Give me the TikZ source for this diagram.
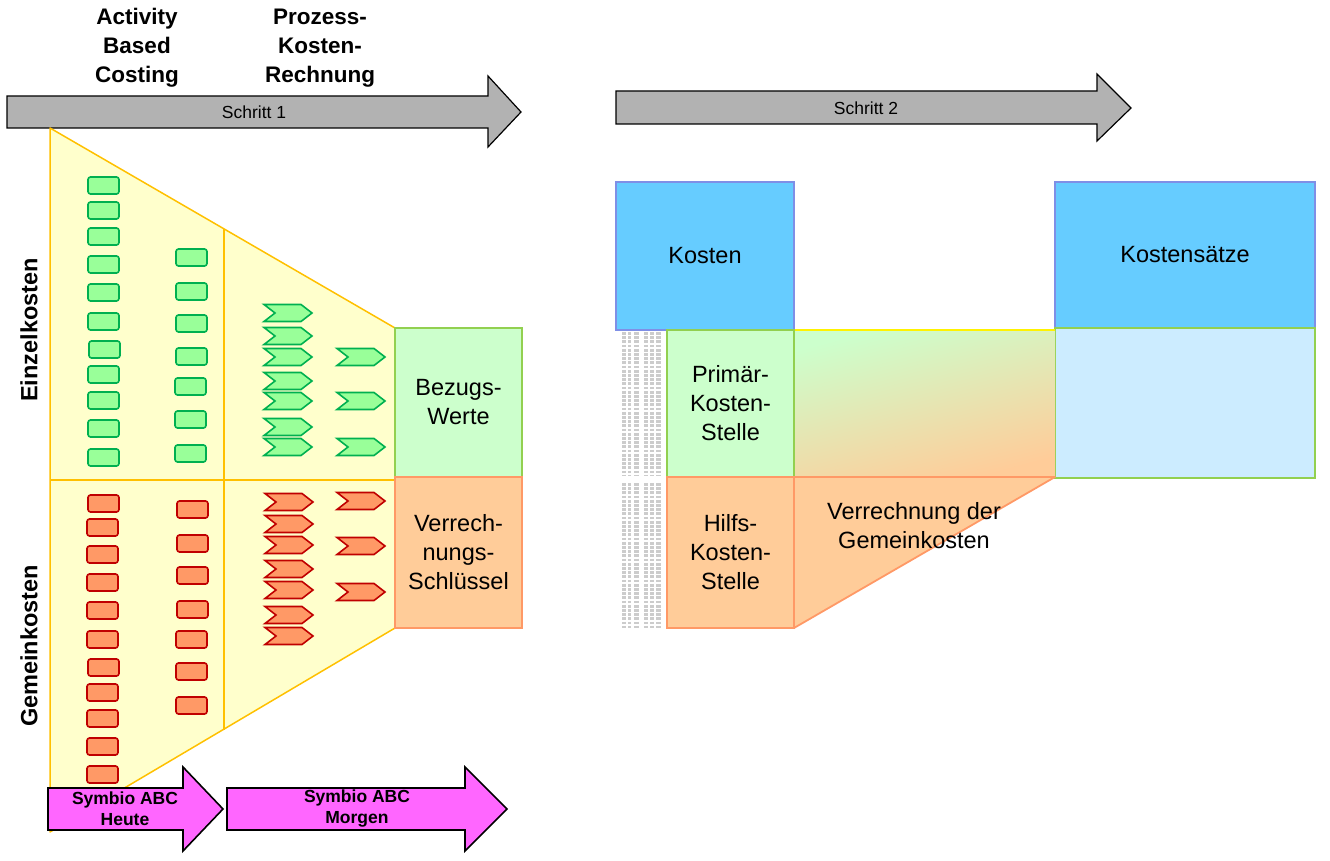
\documentclass[tikz,border=0pt]{standalone}
\usepackage{fontspec}
\setmainfont{Liberation Sans}

\definecolor{kgreen}{HTML}{99FF99}
\definecolor{kgreenline}{HTML}{00B050}
\definecolor{kred}{HTML}{FF9966}
\definecolor{kredline}{HTML}{C00000}
\definecolor{funnel}{HTML}{FFFFCC}
\definecolor{funnelline}{HTML}{FFC000}
\definecolor{lgreen}{HTML}{CCFFCC}
\definecolor{lgreenline}{HTML}{92D050}
\definecolor{lorange}{HTML}{FFCC99}
\definecolor{lorangeline}{HTML}{FF9966}
\definecolor{kblue}{HTML}{66CCFF}
\definecolor{kblueline}{HTML}{7F8FE6}
\definecolor{lblue}{HTML}{CCECFF}
\definecolor{symbio}{HTML}{FF66FF}
\definecolor{stepgray}{HTML}{B2B2B2}

\tikzset{
  gbox/.style={fill=kgreen, draw=kgreenline, line width=1.6pt, rounded corners=2.5pt},
  rbox/.style={fill=kred, draw=kredline, line width=1.6pt, rounded corners=2.5pt},
  gchev/.style={fill=kgreen, draw=kgreenline, line width=1.6pt},
  rchev/.style={fill=kred, draw=kredline, line width=1.6pt},
  stepfill/.style={fill=stepgray, draw=black, line width=1.2pt},
  symbiofill/.style={fill=symbio, draw=black, line width=1.6pt},
  feld/.style={inner sep=0pt, outer sep=0pt, line width=1.8pt, align=center,
    font=\fontsize{23.5}{29}\selectfont},
  head/.style={align=center, font=\bfseries\fontsize{22.5}{29}\selectfont},
  tiny/.style={gray!40, dash pattern=on 2.7pt off 1.5pt}
}

% chevron: left x, middle y, style
\newcommand{\chev}[3]{\draw[#3] (#1,#2-8.5) -- ++(37,0) -- ++(11,8.5) -- ++(-11,8.5) -- ++(-37,0) -- ++(11,-8.5) -- cycle;}

\begin{document}
\begin{tikzpicture}[x=1pt, y=-1pt]
    \useasboundingbox (0,0) rectangle (1330,861);

    % Schritt 1 / Schritt 2
    \draw[stepfill] (7,96) -- (488,96) -- (488,76) -- (521,112) -- (488,147) -- (488,128) -- (7,128) -- cycle;
    \node[font=\fontsize{17.5}{20}\selectfont] (schritt1) at (254,112) {Schritt 1};
    \draw[stepfill] (616,91) -- (1097,91) -- (1097,74) -- (1131,108) -- (1097,141) -- (1097,124) -- (616,124) -- cycle;
    \node[font=\fontsize{17.5}{20}\selectfont] (schritt2) at (866,108) {Schritt 2};

    \node[head] (abc) at (137,48) {Activity\\Based\\Costing};
    \node[head] (pkr) at (320,48) {Prozess-\\Kosten-\\Rechnung};

    % Trichter
    \filldraw[fill=funnel, draw=funnelline, line width=1.5pt, line join=round] (50,128) -- (395,328) -- (395,628) -- (50,832) -- cycle;
    \draw[funnelline, line width=2pt] (50,480) -- (395,480);
    \draw[funnelline, line width=1.5pt] (224,229) -- (224,730);

    \node[font=\bfseries\fontsize{23.5}{28}\selectfont, rotate=90] (einzel) at (29,330) {Einzelkosten};
    \node[font=\bfseries\fontsize{23.5}{28}\selectfont, rotate=90] (gemein) at (29,646) {Gemeinkosten};

    % Einzelkosten
    \draw[gbox] (88,177) rectangle ++(31,17);
    \draw[gbox] (88,202) rectangle ++(31,17);
    \draw[gbox] (88,228) rectangle ++(31,17);
    \draw[gbox] (88,256) rectangle ++(31,17);
    \draw[gbox] (88,284) rectangle ++(31,17);
    \draw[gbox] (88,313) rectangle ++(31,17);
    \draw[gbox] (89,341) rectangle ++(31,17);
    \draw[gbox] (88,366) rectangle ++(31,17);
    \draw[gbox] (88,392) rectangle ++(31,17);
    \draw[gbox] (88,420) rectangle ++(31,17);
    \draw[gbox] (88,449) rectangle ++(31,17);
    \draw[gbox] (176,249) rectangle ++(31,17);
    \draw[gbox] (176,283) rectangle ++(31,17);
    \draw[gbox] (176,315) rectangle ++(31,17);
    \draw[gbox] (176,348) rectangle ++(31,17);
    \draw[gbox] (175,378) rectangle ++(31,17);
    \draw[gbox] (175,411) rectangle ++(31,17);
    \draw[gbox] (175,445) rectangle ++(31,17);
    \chev{264}{313}{gchev}
    \chev{264}{336}{gchev}
    \chev{264}{357}{gchev}
    \chev{264}{381}{gchev}
    \chev{264}{401}{gchev}
    \chev{264}{427}{gchev}
    \chev{264}{447}{gchev}
    \chev{337}{357}{gchev}
    \chev{337}{401}{gchev}
    \chev{337}{447}{gchev}

    % Gemeinkosten
    \draw[rbox] (88,495) rectangle ++(31,17);
    \draw[rbox] (87,519) rectangle ++(31,17);
    \draw[rbox] (87,546) rectangle ++(31,17);
    \draw[rbox] (87,574) rectangle ++(31,17);
    \draw[rbox] (87,602) rectangle ++(31,17);
    \draw[rbox] (87,631) rectangle ++(31,17);
    \draw[rbox] (88,659) rectangle ++(31,17);
    \draw[rbox] (87,684) rectangle ++(31,17);
    \draw[rbox] (87,710) rectangle ++(31,17);
    \draw[rbox] (87,738) rectangle ++(31,17);
    \draw[rbox] (87,766) rectangle ++(31,17);
    \draw[rbox] (177,501) rectangle ++(31,17);
    \draw[rbox] (177,535) rectangle ++(31,17);
    \draw[rbox] (177,567) rectangle ++(31,17);
    \draw[rbox] (177,601) rectangle ++(31,17);
    \draw[rbox] (176,631) rectangle ++(31,17);
    \draw[rbox] (176,663) rectangle ++(31,17);
    \draw[rbox] (176,697) rectangle ++(31,17);
    \chev{265}{502}{rchev}
    \chev{265}{524}{rchev}
    \chev{265}{545}{rchev}
    \chev{265}{569}{rchev}
    \chev{265}{590}{rchev}
    \chev{265}{615}{rchev}
    \chev{265}{636}{rchev}
    \chev{337}{501}{rchev}
    \chev{337}{546}{rchev}
    \chev{337}{592}{rchev}

    \node[feld, fill=lgreen, draw=lgreenline, minimum width=127, minimum height=149] (bezug) at (458.5,402.5) {Bezugs-\\Werte};
    \node[feld, fill=lorange, draw=lorangeline, minimum width=127, minimum height=151] (schluessel) at (458.5,552.5) {Verrech-\\nungs-\\Schl\"ussel};

    % Symbio
    \draw[symbiofill] (48,788) -- (183,788) -- (183,767) -- (223,809) -- (183,851) -- (183,830) -- (48,830) -- cycle;
    \node[align=center, font=\bfseries\fontsize{17.5}{21}\selectfont] (heute) at (125,809) {Symbio ABC\\Heute};
    \draw[symbiofill] (227,788) -- (465,788) -- (465,767) -- (507,809) -- (465,851) -- (465,830) -- (227,830) -- cycle;
    \node[align=center, font=\bfseries\fontsize{17.5}{21}\selectfont] (morgen) at (357,809) {Symbio ABC\\Morgen};

    % Schritt 2 Felder
    \node[feld, fill=kblue, draw=kblueline, minimum width=178, minimum height=148] (kosten) at (705,256) {Kosten};
    \node[feld, fill=kblue, draw=kblueline, minimum width=260, minimum height=146] (saetze) at (1185,255) {Kostens\"atze};
    \node[feld, fill=lblue, draw=lgreenline, minimum width=260, minimum height=150] (leer) at (1185,403) {};

    \shade[top color=lgreen, bottom color=lorange, shading angle=15] (794,330) rectangle (1055,477);
    \draw[yellow, line width=1.5pt] (794,330) -- (1055,330);
    \filldraw[fill=lorange, draw=lorangeline, line width=1.8pt, line join=round] (794,477) -- (1055,477) -- (794,628) -- cycle;
    \node[align=center, font=\fontsize{23.5}{29}\selectfont] (verrechnung) at (914,526) {Verrechnung der\\Gemeinkosten};

    \node[feld, fill=lgreen, draw=lgreenline, minimum width=127, minimum height=147] (primaer) at (730.5,403.5) {Prim\"ar-\\Kosten-\\Stelle};
    \node[feld, fill=lorange, draw=lorangeline, minimum width=127, minimum height=151] (hilfs) at (730.5,552.5) {Hilfs-\\Kosten-\\Stelle};

    % Zahlenspalte
    \draw[tiny, line width=4pt] (624,332) -- (624,476) (624,483) -- (624,628);
    \draw[tiny, line width=3.5pt] (629.5,332) -- (629.5,476) (629.5,483) -- (629.5,628);
    \draw[tiny, line width=5pt] (636,332) -- (636,476) (636,483) -- (636,628);
    \draw[tiny, line width=4pt] (646,332) -- (646,476) (646,483) -- (646,628);
    \draw[tiny, line width=3.5pt] (652,332) -- (652,476) (652,483) -- (652,628);
    \draw[tiny, line width=5pt] (658.5,332) -- (658.5,476) (658.5,483) -- (658.5,628);
\end{tikzpicture}
\end{document}
